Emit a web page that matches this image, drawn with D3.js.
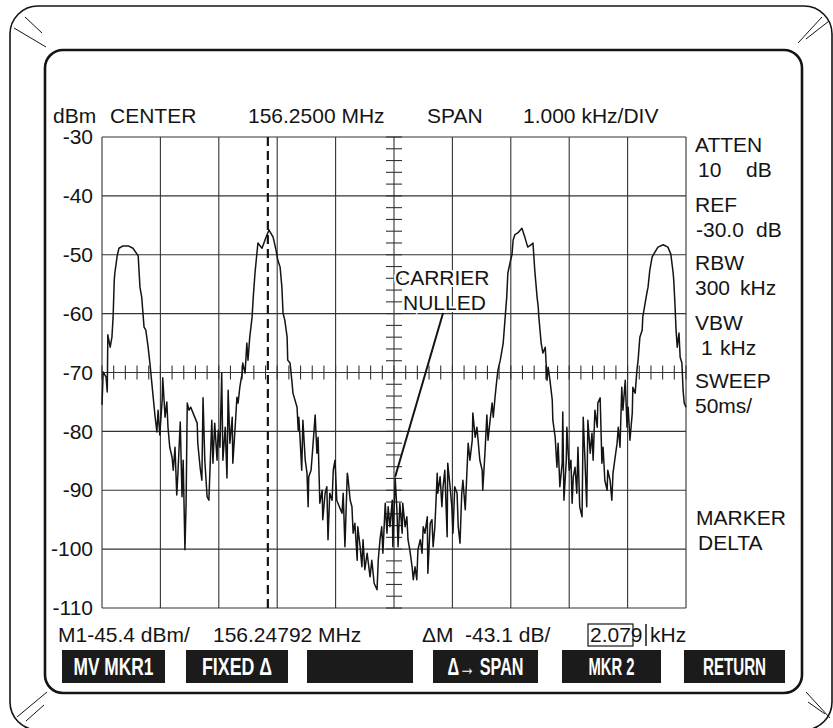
<!DOCTYPE html>
<html><head><meta charset="utf-8">
<script src="https://cdn.jsdelivr.net/npm/d3@7"></script>
<style>
html,body{margin:0;padding:0;background:#fff;}
svg{display:block;font-family:"Liberation Sans",Arial,Helvetica,sans-serif;}
</style></head><body>
<svg id="c" width="833" height="728"></svg>
<script>
// ---------------- DATA ----------------
// Frequency offset from center (kHz)
const freqKHz = [
-5.00,-4.98,-4.93,-4.91,-4.90,-4.86,-4.83,-4.81,-4.79,-4.78,-4.74,-4.71,-4.64,-4.55,-4.47,-4.40,-4.38,-4.35,-4.32,-4.28,
-4.25,-4.21,-4.18,-4.13,-4.09,-4.06,-4.04,-4.01,-3.97,-3.96,-3.92,-3.89,-3.87,-3.84,-3.80,-3.78,-3.75,-3.72,-3.70,-3.66,
-3.63,-3.61,-3.58,-3.56,-3.54,-3.51,-3.48,-3.44,-3.37,-3.36,-3.32,-3.29,-3.27,-3.24,-3.20,-3.17,-3.12,-3.10,-3.07,-3.03,
-3.01,-2.98,-2.95,-2.93,-2.89,-2.86,-2.84,-2.81,-2.77,-2.76,-2.72,-2.69,-2.67,-2.64,-2.60,-2.59,-2.55,-2.52,-2.50,-2.47,
-2.43,-2.41,-2.38,-2.35,-2.33,-2.26,-2.19,-2.14,-2.07,-2.02,-1.99,-1.95,-1.92,-1.90,-1.87,-1.83,-1.82,-1.78,-1.75,-1.73,
-1.66,-1.64,-1.63,-1.61,-1.58,-1.56,-1.52,-1.49,-1.47,-1.46,-1.42,-1.39,-1.35,-1.32,-1.30,-1.27,-1.23,-1.22,-1.18,-1.15,
-1.13,-1.10,-1.06,-1.04,-1.01,-0.98,-0.96,-0.89,-0.87,-0.84,-0.80,-0.79,-0.75,-0.72,-0.70,-0.67,-0.63,-0.62,-0.58,-0.55,
-0.53,-0.50,-0.46,-0.41,-0.38,-0.34,-0.29,-0.27,-0.24,-0.21,-0.19,-0.15,-0.12,-0.10,-0.07,-0.03,-0.02,0.02,0.05,0.07,
0.10,0.14,0.15,0.19,0.22,0.24,0.27,0.31,0.33,0.36,0.39,0.41,0.45,0.48,0.50,0.53,0.57,0.58,0.62,0.65,
0.67,0.70,0.74,0.75,0.79,0.82,0.84,0.87,0.91,0.92,0.96,0.99,1.01,1.04,1.08,1.10,1.13,1.16,1.18,1.22,
1.25,1.27,1.30,1.34,1.35,1.39,1.42,1.44,1.47,1.51,1.52,1.56,1.59,1.61,1.64,1.68,1.70,1.73,1.76,1.78,
1.82,1.87,1.90,1.93,1.95,1.99,2.02,2.04,2.07,2.12,2.19,2.24,2.29,2.35,2.38,2.41,2.45,2.47,2.48,2.52,
2.55,2.59,2.62,2.64,2.67,2.71,2.72,2.76,2.79,2.81,2.84,2.88,2.89,2.91,2.95,2.96,3.00,3.03,3.05,3.07,
3.10,3.13,3.15,3.18,3.22,3.24,3.27,3.30,3.32,3.36,3.39,3.41,3.44,3.48,3.49,3.53,3.56,3.58,3.61,3.65,
3.66,3.70,3.73,3.75,3.78,3.82,3.84,3.87,3.90,3.92,3.96,3.99,4.01,4.04,4.08,4.09,4.13,4.16,4.18,4.21,
4.25,4.26,4.30,4.33,4.35,4.38,4.42,4.47,4.52,4.61,4.69,4.74,4.78,4.79,4.81,4.83,4.85,4.88,4.90,4.93,
4.95,4.97,5.00];
// Level (dBm) at each point
const levelDBm = [
-75.5,-69.9,-70.8,-73.3,-63.6,-65.7,-64.0,-60.6,-54.3,-53.1,-50.2,-48.9,-48.5,-48.5,-48.9,-49.9,-50.2,-55.5,-57.2,-62.3,
-62.8,-65.7,-68.4,-73.5,-77.6,-80.1,-76.4,-80.6,-74.7,-70.9,-77.6,-75.0,-79.3,-82.7,-84.4,-86.6,-82.7,-90.8,-87.1,-78.4,
-91.1,-84.9,-100.1,-92.2,-75.2,-76.4,-75.9,-76.9,-78.6,-82.0,-86.1,-88.3,-74.3,-84.9,-91.1,-91.7,-78.1,-85.4,-78.6,-84.9,
-79.8,-82.7,-70.1,-84.9,-79.3,-87.9,-73.0,-82.0,-77.6,-85.4,-79.3,-74.2,-75.2,-72.5,-70.1,-68.4,-70.1,-65.0,-67.9,-64.0,
-60.6,-57.2,-53.1,-50.0,-48.0,-48.9,-47.0,-45.8,-47.0,-49.2,-50.9,-52.1,-55.5,-59.9,-61.1,-64.0,-67.9,-68.4,-71.3,-73.5,
-75.9,-79.8,-77.6,-81.0,-86.6,-78.1,-84.9,-87.1,-92.8,-87.7,-86.6,-82.7,-77.2,-83.7,-81.0,-92.2,-90.0,-95.0,-90.5,-89.4,
-98.4,-90.5,-91.7,-86.6,-84.9,-91.7,-92.2,-93.9,-90.5,-99.6,-87.1,-87.7,-91.7,-92.8,-97.3,-95.6,-101.9,-96.2,-99.6,-103.0,
-98.4,-103.5,-100.7,-104.7,-101.9,-105.8,-106.9,-101.9,-98.4,-96.2,-100.7,-92.2,-97.3,-92.8,-96.2,-91.7,-99.6,-87.9,-93.3,-99.6,
-92.2,-97.3,-92.2,-96.2,-94.5,-98.4,-100.1,-103.0,-105.2,-103.0,-105.2,-100.1,-98.4,-100.7,-96.2,-97.3,-94.5,-104.1,-95.6,-95.0,
-99.6,-96.2,-87.1,-90.5,-87.7,-92.8,-89.4,-86.6,-97.9,-85.4,-89.4,-92.8,-97.3,-89.4,-90.5,-96.2,-99.0,-90.5,-88.3,-93.3,
-86.6,-82.0,-84.9,-81.5,-76.9,-81.0,-79.3,-81.5,-84.9,-86.6,-90.0,-83.2,-77.2,-81.5,-78.6,-75.2,-77.6,-74.2,-71.3,-69.6,
-67.9,-65.0,-61.1,-57.2,-53.1,-51.2,-50.0,-47.5,-46.6,-46.3,-45.5,-47.0,-48.7,-48.3,-48.0,-52.6,-57.2,-58.9,-60.6,-65.0,
-66.7,-65.7,-71.3,-69.1,-71.3,-74.7,-78.1,-81.0,-86.1,-82.0,-89.4,-85.4,-76.7,-91.7,-84.9,-79.3,-86.6,-84.9,-92.2,-87.7,
-86.1,-90.5,-82.7,-92.8,-94.5,-77.6,-84.9,-92.8,-78.1,-83.7,-80.3,-84.9,-76.4,-79.3,-75.2,-74.3,-85.4,-82.7,-88.3,-90.0,
-86.6,-88.3,-91.7,-87.1,-84.9,-82.0,-79.3,-82.7,-72.5,-76.4,-71.3,-79.3,-75.9,-81.5,-76.9,-72.5,-73.5,-69.6,-67.9,-64.0,
-62.8,-60.6,-58.2,-56.5,-55.5,-52.6,-50.4,-49.5,-48.7,-48.3,-48.7,-49.9,-53.1,-54.3,-58.2,-62.8,-65.7,-63.3,-67.4,-68.4,
-73.0,-75.2,-75.9];

const xTicksKHz = [-5,-4,-3,-2,-1,0,1,2,3,4,5];          // 1 kHz/div
const yTicksDBm = [-30,-40,-50,-60,-70,-80,-90,-100,-110];
const markerKHz = -2.16;                                   // M1 dashed marker
const carrierArrow = [[0.84,-59.9],[0.02,-87.7]];          // from label to nulled carrier

const headerTexts = ["dBm","CENTER","156.2500 MHz","SPAN","1.000 kHz/DIV"];
const sideTexts = ["ATTEN","10","dB","REF","-30.0","dB","RBW","300","kHz","VBW","1","kHz","SWEEP","50ms/","MARKER","DELTA"];
const footerTexts = ["M1-45.4 dBm/","156.24792 MHz","\u0394M","-43.1 dB/","2.079","kHz"];
const softKeys = ["MV MKR1","FIXED \u0394","","\u0394\u2192 SPAN","MKR 2","RETURN"];
const noteTexts = ["CARRIER","NULLED"];

// ---------------- LAYOUT ----------------
const headerPos = [[53,123],[110,123],[248,123],[427,123],[523,123]];
const sidePos = [[695,152],[698,177],[746,177],[695,212],[696,237],[756,237],[695,270],[695,295],[740,295],
                 [695,330],[701,355],[720,355],[695,388],[695,413],[696,525],[698,550]];
const footerPos = [[58,642],[213,642],[422,642],[465,642],[590,642],[650,642]];
const keyBoxes = [[62,165],[186,288],[307,413],[433,538],[562,661],[684,785]];
const keyTextW = [80,70,0,76,46,63];
const notePos = [[395,285],[403,310]];

const ink = "#141414";
const svg = d3.select("#c");
const x = d3.scaleLinear().domain([-5,5]).range([102,686]);
const y = d3.scaleLinear().domain([-110,-30]).range([608,137]);

// frames
svg.append("rect").attr("x",10).attr("y",6).attr("width",822).attr("height",724).attr("rx",28)
  .attr("fill","none").attr("stroke",ink).attr("stroke-width",1.6);
svg.append("rect").attr("x",45).attr("y",50).attr("width",757).attr("height",643).attr("rx",18)
  .attr("fill","#fff").attr("stroke",ink).attr("stroke-width",2.6);
const glare = [[25,17,42,33],[14,28,46,47],[798,43,822,17],[806,39,829,21],
               [17,717,47,692],[26,721,44,705],[806,692,830,718],[808,702,825,714]];
svg.append("g").selectAll("line").data(glare).join("line")
  .attr("x1",d=>d[0]).attr("y1",d=>d[1]).attr("x2",d=>d[2]).attr("y2",d=>d[3])
  .attr("stroke",ink).attr("stroke-width",1);

// grid
const grid = svg.append("g").attr("stroke","#333").attr("stroke-width",1.1);
grid.selectAll("line.v").data(xTicksKHz).join("line").attr("class","v")
  .attr("x1",d=>x(d)).attr("x2",d=>x(d)).attr("y1",y(-30)).attr("y2",y(-110));
grid.selectAll("line.h").data(yTicksDBm).join("line").attr("class","h")
  .attr("y1",d=>y(d)).attr("y2",d=>y(d)).attr("x1",x(-5)).attr("x2",x(5));
// graticule minor ticks on center lines
const minorX = d3.range(-50,51,2).map(v=>v/10);
const minorY = d3.range(-110,-29,2);
grid.selectAll("line.mx").data(minorX).join("line").attr("class","mx")
  .attr("x1",d=>x(d)).attr("x2",d=>x(d)).attr("y1",y(-70)-7).attr("y2",y(-70)+7);
grid.selectAll("line.my").data(minorY).join("line").attr("class","my")
  .attr("y1",d=>y(d)).attr("y2",d=>y(d)).attr("x1",x(0)-8).attr("x2",x(0)+8);

// y axis labels
const yAxis = svg.append("g").attr("transform",`translate(${x(-5)},0)`)
  .call(d3.axisLeft(y).tickValues(yTicksDBm).tickSize(0).tickPadding(9).tickFormat(d3.format("d")));
yAxis.select(".domain").remove();
yAxis.selectAll("text").attr("font-size",21).attr("fill",ink)
  .attr("font-family","Liberation Sans, Arial, sans-serif").text(d=>String(d).replace("\u2212","-"));

// marker dashed line
svg.append("line").attr("x1",x(markerKHz)).attr("x2",x(markerKHz)).attr("y1",y(-30)).attr("y2",y(-110))
  .attr("stroke",ink).attr("stroke-width",2.2).attr("stroke-dasharray","9,5");

// trace
const pts = freqKHz.map((f,i)=>({f, v: levelDBm[i]}));
svg.append("path").datum(pts)
  .attr("d", d3.line().x(d=>x(d.f)).y(d=>y(d.v)))
  .attr("fill","none").attr("stroke",ink).attr("stroke-width",1.5).attr("stroke-linejoin","round");

// carrier nulled note
svg.append("g").selectAll("text").data(noteTexts).join("text")
  .attr("x",(d,i)=>notePos[i][0]).attr("y",(d,i)=>notePos[i][1])
  .attr("font-size",21).attr("fill",ink)
  .attr("stroke","#fff").attr("stroke-width",4).attr("paint-order","stroke")
  .text(d=>d);
svg.append("line")
  .attr("x1",x(carrierArrow[0][0])).attr("y1",y(carrierArrow[0][1]))
  .attr("x2",x(carrierArrow[1][0])).attr("y2",y(carrierArrow[1][1]))
  .attr("stroke",ink).attr("stroke-width",2);

// header
svg.append("g").selectAll("text").data(headerTexts).join("text")
  .attr("x",(d,i)=>headerPos[i][0]).attr("y",(d,i)=>headerPos[i][1])
  .attr("font-size",21).attr("fill",ink).text(d=>d);
// side panel
svg.append("g").selectAll("text").data(sideTexts).join("text")
  .attr("x",(d,i)=>sidePos[i][0]).attr("y",(d,i)=>sidePos[i][1])
  .attr("font-size",21).attr("fill",ink).text(d=>d);
// footer
svg.append("g").selectAll("text").data(footerTexts).join("text")
  .attr("x",(d,i)=>footerPos[i][0]).attr("y",(d,i)=>footerPos[i][1])
  .attr("font-size",21).attr("fill",ink).text(d=>d);
svg.append("rect").attr("x",588).attr("y",624).attr("width",45).attr("height",22)
  .attr("fill","none").attr("stroke",ink).attr("stroke-width",1.2);
svg.append("line").attr("x1",646).attr("x2",646).attr("y1",624).attr("y2",646)
  .attr("stroke",ink).attr("stroke-width",1.5);

// soft keys
const keys = svg.append("g").selectAll("g").data(softKeys).join("g");
keys.append("rect").attr("x",(d,i)=>keyBoxes[i][0]).attr("y",650)
  .attr("width",(d,i)=>keyBoxes[i][1]-keyBoxes[i][0]).attr("height",33).attr("fill","#1b1b1b");
keys.filter(d=>d!=="").append("text")
  .attr("x",d=>(keyBoxes[softKeys.indexOf(d)][0]+keyBoxes[softKeys.indexOf(d)][1])/2)
  .attr("y",675).attr("text-anchor","middle").attr("font-size",24).attr("font-weight","bold")
  .attr("fill","#fff")
  .attr("textLength",d=>keyTextW[softKeys.indexOf(d)]).attr("lengthAdjust","spacingAndGlyphs")
  .text(d=>d);
</script>
</body></html>
